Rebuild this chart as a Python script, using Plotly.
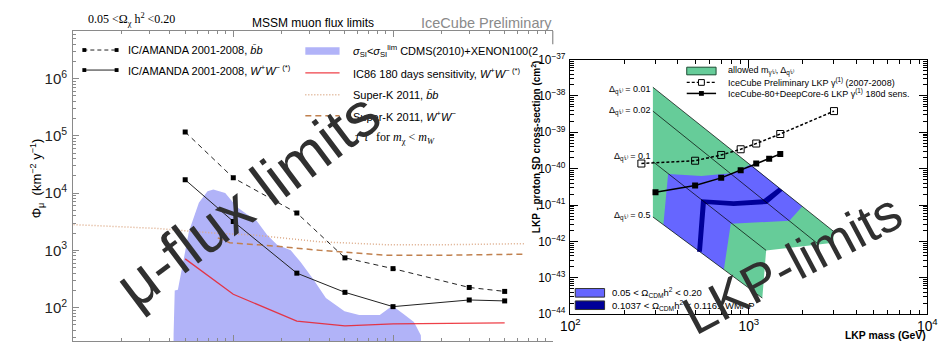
import plotly.graph_objects as go

W, H = 952, 348

# ---------------- left panel: MSSM muon flux limits (mass in GeV, flux in km^-2 y^-1) ----------------
ic_mass = [50, 100, 250, 500, 1000, 3000, 5000]
ic_flux_bb = [1.17e5, 1.85e4, 4.5e3, 740, 480, 225, 192]
ic_flux_ww = [1.71e4, 3.2e3, 400, 185, 104, 136, 131]
ic86_flux_ww = [710, 171, 58, 48, 52, 54, 54]

sk_bb_mass = [10, 33, 77, 136, 350, 890, 2300, 6700]
sk_bb_flux = [2820, 2420, 2000, 1850, 1410, 1260, 1260, 1310]
sk_ww_mass = [80, 95, 170, 350, 890, 2300, 6700]
sk_ww_flux = [1650, 1360, 1210, 1000, 826, 826, 858]

# region allowed by direct detection (CDMS 2010 + XENON100 2010)
dd_mass = [42.0, 42.3, 43.0, 45.0, 52.8, 60.9, 69, 75, 89, 105, 121, 140, 163, 188,
           229, 263, 316, 380, 497, 614, 826, 991, 1174, 1352, 1493, 1560]
dd_flux = [1, 35, 200, 205, 2150, 6800, 10800, 11600, 10000, 5800, 4300, 3300, 1850, 1260,
           1000, 630, 316, 147, 86, 74, 74, 108, 76, 56, 33, 1]

# ---------------- right panel: LKP limits (mass in GeV, cross-section in cm^2) ----------------
allowed_mass = [290, 2980, 2980, 1250, 1190, 290]
allowed_sigma = [1.74e-38, 1.91e-42, 9.25e-43, 5.70e-43, 2.79e-44, 4.72e-42]

relic_mass = [353, 542, 822, 1019, 1991, 1687, 792, 725, 332]
relic_sigma = [7.15e-41, 6.32e-41, 7.59e-41, 1.31e-40, 9.16e-42, 3.71e-42, 3.09e-42, 1.7e-43, 2.91e-42]

wmap_mass = [513, 540, 822, 1208, 1469, 1545, 1262, 822, 574, 546]
wmap_sigma = [5.2e-43, 1.44e-41, 1.28e-41, 1.44e-41, 3.0e-41, 2.5e-41, 1.07e-41, 9.44e-42, 1.07e-41, 5.2e-43]

delta_labels = ["0.01", "0.02", "0.1", "0.5"]
delta_mass_start = [290, 290, 290, 290]
delta_mass_end = [2980, 2470, 1250, 1190]
delta_sigma_start = [1.74e-38, 3.84e-39, 1.57e-40, 4.72e-42]
delta_sigma_end = [1.91e-42, 8.18e-43, 5.70e-43, 2.79e-44]

lkp_prelim_mass = [250, 500, 700, 900, 1100, 1500, 3000]
lkp_prelim_sigma = [1.39e-40, 1.66e-40, 2.39e-40, 3.43e-40, 4.93e-40, 9.0e-40, 3.84e-39]
lkp_sens_mass = [300, 500, 700, 900, 1100, 1300, 1500]
lkp_sens_sigma = [2.27e-41, 3.46e-41, 5.61e-41, 9.1e-41, 1.39e-40, 1.88e-40, 2.54e-40]

# ---------------- styling ----------------
SANS_L = "Liberation Sans, Arial, sans-serif"
SERIF = "Liberation Serif, DejaVu Serif, serif"
HELV = "Liberation Sans, Arial, sans-serif"
BLUE_DD = "#b1b3f8"
RED = "rgba(235,30,40,0.85)"
SK_BB = "#dcaa88"
SK_WW = "#c0804e"
GREEN = "#66cc99"
RELIC = "#6666ff"
NAVY = "#000099"
GREY = "#8a8a8a"

fig = go.Figure()

# left panel
L = dict(xaxis="x", yaxis="y", hoverinfo="skip", showlegend=False)
fig.add_trace(go.Scatter(x=dd_mass, y=dd_flux, mode="lines", fill="toself",
                         fillcolor=BLUE_DD, line=dict(width=0), **L))
fig.add_trace(go.Scatter(x=sk_bb_mass, y=sk_bb_flux, mode="lines",
                         line=dict(color=SK_BB, width=1.5, dash="1px,2px"), **L))
fig.add_trace(go.Scatter(x=sk_ww_mass, y=sk_ww_flux, mode="lines",
                         line=dict(color=SK_WW, width=1.5, dash="6px,4px"), **L))
fig.add_trace(go.Scatter(x=ic_mass, y=ic86_flux_ww, mode="lines",
                         line=dict(color=RED, width=1.3), **L))
fig.add_trace(go.Scatter(x=ic_mass, y=ic_flux_bb, mode="lines+markers",
                         line=dict(color="#222", width=1, dash="5px,4px"),
                         marker=dict(symbol="square", size=5, color="black"), **L))
fig.add_trace(go.Scatter(x=ic_mass, y=ic_flux_ww, mode="lines+markers",
                         line=dict(color="#222", width=1),
                         marker=dict(symbol="square", size=5, color="black"), **L))

# right panel
R = dict(xaxis="x2", yaxis="y2", hoverinfo="skip", showlegend=False)
fig.add_trace(go.Scatter(x=allowed_mass, y=allowed_sigma, mode="lines", fill="toself",
                         fillcolor=GREEN, line=dict(width=0), **R))
fig.add_trace(go.Scatter(x=relic_mass, y=relic_sigma, mode="lines", fill="toself",
                         fillcolor=RELIC, line=dict(width=0), **R))
fig.add_trace(go.Scatter(x=wmap_mass, y=wmap_sigma, mode="lines", fill="toself",
                         fillcolor=NAVY, line=dict(width=0), **R))
for m0, m1, s0, s1 in zip(delta_mass_start, delta_mass_end, delta_sigma_start, delta_sigma_end):
    fig.add_trace(go.Scatter(x=[m0, m1], y=[s0, s1], mode="lines",
                             line=dict(color="black", width=0.7), **R))
fig.add_trace(go.Scatter(x=lkp_prelim_mass, y=lkp_prelim_sigma, mode="lines+markers",
                         line=dict(color="black", width=1.5, dash="3px,2px"),
                         marker=dict(symbol="square-open", size=7, color="black", line=dict(width=1)), **R))
fig.add_trace(go.Scatter(x=lkp_sens_mass, y=lkp_sens_sigma, mode="lines+markers",
                         line=dict(color="black", width=1.5),
                         marker=dict(symbol="square", size=6, color="black"), **R))


def px(x):
    return x / W


def py(y):
    return 1 - y / H


shapes = []
annotations = []


def hline(x0, x1, y, color, width, dash="solid"):
    shapes.append(dict(type="line", xref="paper", yref="paper", x0=px(x0), x1=px(x1),
                       y0=py(y), y1=py(y), line=dict(color=color, width=width, dash=dash)))


def box(x0, y0, x1, y1, fill, edge=None, lw=0):
    shapes.append(dict(type="rect", xref="paper", yref="paper", x0=px(x0), x1=px(x1),
                       y0=py(y1), y1=py(y0), fillcolor=fill,
                       line=dict(color=edge or fill, width=lw)))


def label(x, y, text, size, family, color="black", xanchor="left", yanchor="middle", angle=0):
    annotations.append(dict(xref="paper", yref="paper", x=px(x), y=py(y), text=text,
                            showarrow=False, xanchor=xanchor, yanchor=yanchor, textangle=angle,
                            borderpad=0, font=dict(size=size, family=family, color=color)))


# right edge of the left frame, above the LKP panel
shapes.append(dict(type="line", xref="paper", yref="paper", x0=px(555), x1=px(555),
                   y0=py(23), y1=py(37), line=dict(color=GREY, width=1.2)))

# left panel headings
label(79, 11, "0.05 &lt;Ω<sub>χ</sub> h<sup>2</sup> &lt;0.20", 12, SERIF)
label(310, 15, "MSSM muon flux limits", 12, SANS_L, xanchor="center")
label(555, 15, "IceCube Preliminary", 14.5, SANS_L, color="#8a8a8a", xanchor="right")
label(27, 177, "Φ<sub>μ</sub>  (km<sup>−2</sup> y<sup>−1</sup>)", 13, SANS_L,
      xanchor="center", angle=-90)

# left panel key, first column
hline(75, 110, 43, "#222", 1, "4px,3px")
box(74, 41, 78, 45, "black")
box(107, 41, 111, 45, "black")
label(120, 43, "IC/AMANDA 2001-2008, <i>b̄b</i>", 11, SANS_L)
hline(75, 110, 64, "#222", 1)
box(74, 62, 78, 66, "black")
box(107, 62, 111, 66, "black")
label(120, 64, "IC/AMANDA 2001-2008, <i>W</i><sup>+</sup><i>W</i><sup>− (*)</sup>", 11, SANS_L)

# left panel key, second column
box(302, 40, 337, 48, BLUE_DD)
label(350, 44, "<i>σ</i><sub>SI</sub>&lt;<i>σ</i><sub>SI</sub><sup>lim</sup> CDMS(2010)+XENON100(2", 11, SANS_L)
hline(302, 337, 67, RED, 1.3)
label(350, 67, "IC86 180 days sensitivity, <i>W</i><sup>+</sup><i>W</i><sup>− (*)</sup>", 11, SANS_L)
hline(302, 337, 90, SK_BB, 1.5, "1px,2px")
label(350, 90, "Super-K 2011, <i>b̄b</i>", 11, SANS_L)
hline(302, 337, 112, SK_WW, 1.5, "6px,4px")
label(350, 112, "Super-K 2011, <i>W</i><sup>+</sup><i>W</i><sup>−</sup>", 11, SANS_L)
label(352, 135, "<i>τ</i><sup>+</sup><i>τ</i><sup>−</sup> for <i>m</i><sub>χ</sub> &lt; <i>m<sub>W</sub></i>",
      12, SERIF)

# right panel axis titles
label(538, 53, "<b>LKP - proton SD cross-section (cm<sup>2</sup>)</b>", 10, HELV,
      xanchor="center", yanchor="top", angle=-90)
label(938, 342, "<b>LKP mass (GeV)</b>", 10.4, HELV, xanchor="right")

# Δ labels at the start of each line
for lab, y in zip(delta_labels, [85, 107, 155, 217]):
    label(655, y, "Δ<sub>q⁽¹⁾</sub> = " + lab, 9, HELV, xanchor="right")

# right panel key, top
box(692, 61, 722, 69, GREEN, "#1d4d33", 1)
label(733, 65, "allowed m<sub>γ⁽¹⁾</sub>, Δ<sub>q⁽¹⁾</sub>", 9, HELV)
hline(692, 722, 77, "black", 1.3, "3px,2px")
box(704, 74, 710, 80, "white", "black", 1)
label(733, 77, "IceCube Preliminary LKP γ<sup>(1)</sup> (2007-2008)", 9, HELV)
hline(692, 722, 88.5, "black", 1.5)
box(704.5, 86, 709.5, 91, "black")
label(733, 88.5, "IceCube-80+DeepCore-6 LKP γ<sup>(1)</sup> 180d sens.", 9, HELV)

# right panel key, bottom
box(578, 293, 608, 302, RELIC, "#333", 1)
label(615, 297.5, "0.05 &lt; Ω<sub>CDM</sub>h<sup>2</sup> &lt; 0.20", 9.5, HELV)
box(578, 306, 608, 315, NAVY, "#333", 1)
label(615, 310.5, "0.1037 &lt; Ω<sub>CDM</sub>h<sup>2</sup> &lt; 0.1161 WMAP", 9.5, HELV)

# large overlay captions
label(243, 200, "μ-flux limits", 62, HELV, color="#303030", xanchor="center", angle=-37)
label(800, 267, "LKP-limits", 53, HELV, color="#303030", xanchor="center", angle=-28)

left_axis_common = dict(type="log", showgrid=False, zeroline=False, showline=True,
                        linecolor=GREY, linewidth=1.2, ticks="inside", tickcolor=GREY,
                        ticklen=6, dtick=1,
                        minor=dict(ticks="inside", ticklen=3, tickcolor=GREY, dtick="D1",
                                   showgrid=False))
right_axis_common = dict(type="log", showgrid=False, zeroline=False, showline=True,
                         linecolor="black", linewidth=1, mirror="allticks", ticks="inside",
                         tickcolor="black", ticklen=8, dtick=1, exponentformat="power",
                         showexponent="all",
                         minor=dict(ticks="inside", ticklen=4, tickcolor="black", dtick="D1",
                                    showgrid=False))

fig.update_layout(
    width=W, height=H, margin=dict(l=0, r=0, t=0, b=0),
    paper_bgcolor="white", plot_bgcolor="white", showlegend=False,
    xaxis=dict(domain=[64 / W, 555 / W], range=[0.994, 4.0], anchor="y",
               mirror="allticks", showticklabels=False, **left_axis_common),
    yaxis=dict(domain=[0, 1 - 23 / H], range=[1.417, 6.833], anchor="x",
               exponentformat="power", showexponent="all", ticklabelstandoff=2,
               tickfont=dict(size=12, family=SANS_L, color="#222"), **left_axis_common),
    xaxis2=dict(domain=[573 / W, 938 / W], range=[2, 4], anchor="y2",
                tickfont=dict(size=11, family=HELV, color="black"), **right_axis_common),
    yaxis2=dict(domain=[1 - 320 / H, 1 - 53 / H], range=[-44, -37], anchor="x2",
                ticklabelstandoff=2,
                tickfont=dict(size=9.5, family=HELV, color="black"), **right_axis_common),
    shapes=shapes,
    annotations=annotations,
)

fig.write_html("out.html")
